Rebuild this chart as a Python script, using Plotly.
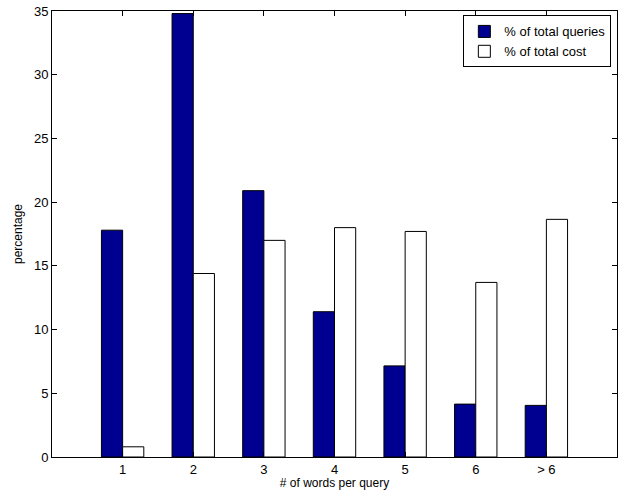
import plotly.graph_objects as go

categorias = ["1", "2", "3", "4", "5", "6", "> 6"]
pct_queries = [17.8, 34.8, 20.9, 11.4, 7.15, 4.15, 4.05]
pct_cost = [0.8, 14.4, 17.0, 18.0, 17.7, 13.7, 18.65]

fonte = "Liberation Sans, Arial, sans-serif"

fig = go.Figure()

# barras azuis: % das consultas
fig.add_trace(go.Bar(
    x=categorias, y=pct_queries, name="% of total queries",
    marker=dict(color="#000090", line=dict(color="black", width=1))
))

# barras brancas: % do custo
fig.add_trace(go.Bar(
    x=categorias, y=pct_cost, name="% of total cost",
    marker=dict(color="white", line=dict(color="black", width=1))
))

fig.update_layout(
    width=621, height=490,
    margin=dict(l=52, r=4, t=11, b=33),
    barmode="group", bargap=0.4, bargroupgap=0,
    plot_bgcolor="white", paper_bgcolor="white",
    font=dict(family=fonte, size=13, color="black"),
    legend=dict(
        x=0.99, y=0.99, xanchor="right", yanchor="top",
        bordercolor="black", borderwidth=1, bgcolor="white",
        font=dict(size=13), tracegroupgap=0
    )
)

fig.update_xaxes(
    type="category", range=[-1, 7],
    showline=True, linecolor="black", linewidth=1, mirror="ticks",
    ticks="inside", ticklen=5, tickcolor="black", showgrid=False,
    title=dict(text="# of words per query", font=dict(size=12), standoff=1)
)
fig.update_yaxes(
    range=[0, 35], dtick=5,
    showline=True, linecolor="black", linewidth=1, mirror="ticks",
    ticks="inside", ticklen=5, tickcolor="black", showgrid=False, zeroline=False,
    title=dict(text="percentage", font=dict(size=12), standoff=8)
)

# tira a margem padrão do body para a figura ocupar a janela toda
fig.write_html(
    "out.html",
    config={"displayModeBar": False},
    post_script="document.body.style.margin = '0';"
)
